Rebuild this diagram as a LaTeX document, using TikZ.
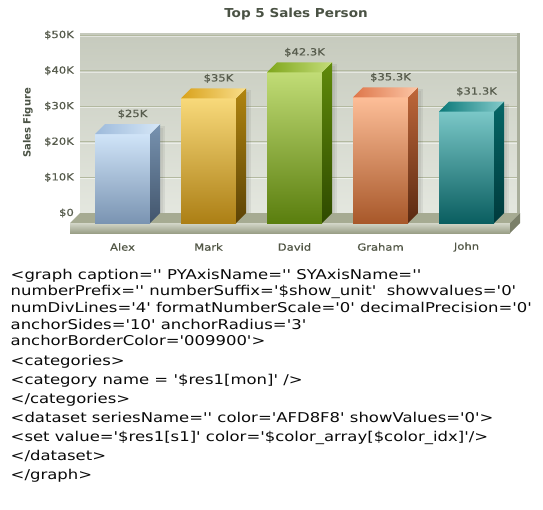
\documentclass[tikz,border=0pt]{standalone}
\usepackage{fontspec}
\newfontfamily\chartfont[FakeStretch=1.18,FakeBold=0.6]{DejaVu Sans}
\newfontfamily\titlefont[FakeStretch=1.1]{DejaVu Sans}
\newfontfamily\plainfont{DejaVu Sans}
\newfontfamily\codefont[FakeStretch=1.22,Ligatures=TeXOff]{DejaVu Sans}

% wall, floor and text colours
\definecolor{wallA}{HTML}{C6CABD}
\definecolor{wallB}{HTML}{E4E7DF}
\definecolor{wallEdge}{HTML}{A9AE9B}
\definecolor{gridc}{HTML}{B3B9A0}
\definecolor{floorTop}{HTML}{A6AB92}
\definecolor{floorFa}{HTML}{D3D6C8}
\definecolor{floorFb}{HTML}{9A9F87}
\definecolor{floorSide}{HTML}{7B8069}
\definecolor{titlec}{HTML}{4A5244}
\definecolor{axc}{HTML}{575C4D}
\definecolor{catc}{HTML}{525746}
\definecolor{codec}{HTML}{0A0A0A}

% bar colours: front (fa,fb), side (sa,sb), top (ta,tb)
\definecolor{b1fa}{HTML}{D0E4F8}\definecolor{b1fb}{HTML}{7A94B2}
\definecolor{b1sa}{HTML}{7893B0}\definecolor{b1sb}{HTML}{42556C}
\definecolor{b1ta}{HTML}{9DBADB}\definecolor{b1tb}{HTML}{D6E7F7}
\definecolor{b2fa}{HTML}{F8D97A}\definecolor{b2fb}{HTML}{AC7F15}
\definecolor{b2sa}{HTML}{B08510}\definecolor{b2sb}{HTML}{5C4306}
\definecolor{b2ta}{HTML}{D9A21C}\definecolor{b2tb}{HTML}{F9DE8A}
\definecolor{b3fa}{HTML}{C1DC76}\definecolor{b3fb}{HTML}{5A7E0E}
\definecolor{b3sa}{HTML}{5F8A0A}\definecolor{b3sb}{HTML}{2F4A00}
\definecolor{b3ta}{HTML}{7FA61C}\definecolor{b3tb}{HTML}{C4DD7A}
\definecolor{b4fa}{HTML}{FDBE98}\definecolor{b4fb}{HTML}{A8582A}
\definecolor{b4sa}{HTML}{BF673A}\definecolor{b4sb}{HTML}{5A2A12}
\definecolor{b4ta}{HTML}{DE764A}\definecolor{b4tb}{HTML}{FCC6A6}
\definecolor{b5fa}{HTML}{7AC7C7}\definecolor{b5fb}{HTML}{0A5E60}
\definecolor{b5sa}{HTML}{056666}\definecolor{b5sb}{HTML}{003A3C}
\definecolor{b5ta}{HTML}{0A7878}\definecolor{b5tb}{HTML}{84CBCB}

\begin{document}
\begin{tikzpicture}[x=1pt,y=-1pt,
  axlbl/.style={inner sep=0pt, anchor=east, text=axc, font=\chartfont\fontsize{9.8}{11}\selectfont},
  vallbl/.style={inner sep=0pt, text=axc, font=\chartfont\fontsize{9.8}{11}\selectfont},
  catlbl/.style={inner sep=0pt, text=catc, font=\chartfont\fontsize{9.8}{11}\selectfont},
  codeline/.style={inner sep=0pt, anchor=base west, text=codec, font=\codefont\fontsize{13.5}{16}\selectfont}]
\useasboundingbox (0,0) rectangle (543,509);
\fill[white] (0,0) rectangle (543,509);

% back wall
\shade[top color=wallA, bottom color=wallB] (80,33) rectangle (517,213);
\fill[wallEdge] (517,33) rectangle (520,213);

% horizontal division lines
\foreach \yy in {35,70.6,106.2,141.8,177.4}{
  \draw[gridc, line width=0.9pt] (80,\yy) -- (517,\yy);
  \draw[white, opacity=0.5, line width=0.6pt] (80,\yy+1.2) -- (517,\yy+1.2);
}

% floor slab
\fill[floorTop] (80,213) -- (520,213) -- (510,223) -- (70,223) -- cycle;
\shade[top color=floorFa, bottom color=floorFb] (70,223) rectangle (510,233);
\fill[floorSide] (510,223) -- (520,213) -- (520,223) -- (510,233) -- cycle;

% axis values
\node[axlbl] (t0) at (74,213) {\$0};
\foreach \k/\yy in {10/177.4,20/141.8,30/106.2,40/70.6,50/35}
  \node[axlbl] (t\k) at (74,\yy) {\$\k K};

% bars
\foreach \i/\x/\v/\name/\amt in {1/95/25/Alex/25K, 2/181/35/Mark/35K,
    3/267/42.3/David/42.3K, 4/353/35.3/Graham/35.3K, 5/439/31.3/John/31.3K}{
  \pgfmathsetmacro\yt{223-\v*3.56}
  \pgfmathsetmacro\yb{\yt-10}
  \pgfmathsetmacro\xr{\x+55}
  \pgfmathsetmacro\xs{\x+65}
  \pgfmathsetmacro\xo{\x+10}
  \fill[black, opacity=0.06] (\xs,\yb+2) rectangle (\xs+5,213);
  \fill[black, opacity=0.05] (\xs,\yb+4) rectangle (\xs+2.5,213);
  \shade[top color=b\i fa, bottom color=b\i fb] (\x,\yt) rectangle (\xr,223);
  \shade[top color=b\i sa, bottom color=b\i sb] (\xr,\yt) -- (\xs,\yb) -- (\xs,213) -- (\xr,223) -- cycle;
  \shade[left color=b\i ta, right color=b\i tb] (\x,\yt) -- (\xo,\yb) -- (\xs,\yb) -- (\xr,\yt) -- cycle;
  \node[vallbl] (val\i) at (\x+37.5,\yb-10) {\$\amt};
  \node[catlbl] (cat\i) at (\x+27.5,247) {\name};
}

% titles
\node[inner sep=0pt, text=titlec, font=\titlefont\bfseries\fontsize{12.3}{14}\selectfont] (title) at (296,14) {Top 5 Sales Person};
\node[inner sep=0pt, rotate=90, text=titlec, font=\plainfont\bfseries\fontsize{10}{11}\selectfont] (ytitle) at (28,123) {Sales Figure};

% XML source
\node[codeline] (c1) at (10.5,279) {<graph caption='' PYAxisName='' SYAxisName=''};
\node[codeline] (c2) at (10.5,295.7) {numberPrefix='' numberSuffix='\$show\_unit' \ showvalues='0'};
\node[codeline] (c3) at (10.5,312.4) {numDivLines='4' formatNumberScale='0' decimalPrecision='0'};
\node[codeline] (c4) at (10.5,329.1) {anchorSides='10' anchorRadius='3'};
\node[codeline] (c5) at (10.5,345.8) {anchorBorderColor='009900'>};
\node[codeline] (c6) at (10.5,365.6) {<categories>};
\node[codeline] (c7) at (10.5,384.5) {<category name = '\$res1[mon]' />};
\node[codeline] (c8) at (10.5,403.4) {</categories>};
\node[codeline] (c9) at (10.5,422.3) {<dataset seriesName='' color='AFD8F8' showValues='0'>};
\node[codeline] (c10) at (10.5,441.2) {<set value='\$res1[s1]' color='\$color\_array[\$color\_idx]'/>};
\node[codeline] (c11) at (10.5,460.1) {</dataset>};
\node[codeline] (c12) at (10.5,479) {</graph>};
\end{tikzpicture}
\end{document}
